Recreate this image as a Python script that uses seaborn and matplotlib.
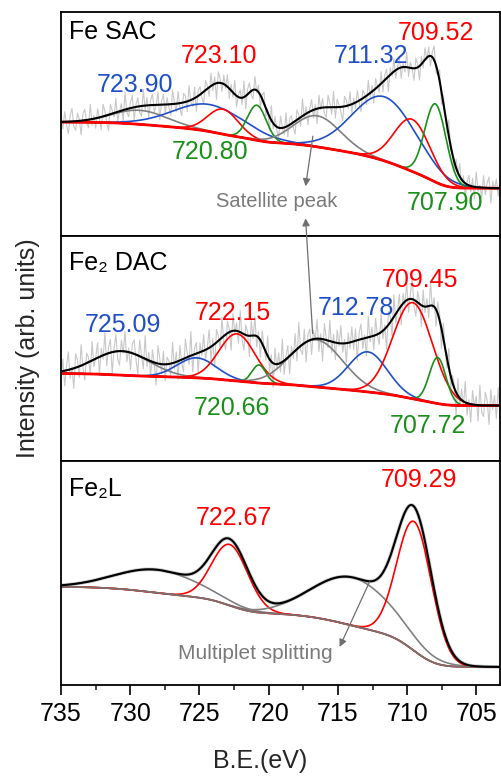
import numpy as np
import pandas as pd
import matplotlib
matplotlib.use("Agg")
import matplotlib.pyplot as plt
import seaborn as sns

# ---------------- data ----------------
panel_names = ["Fe SAC", "Fe\u2082 DAC", "Fe\u2082L"]

# fitted components: centre (eV), height above background, sigma (eV), kind
sac_center = [729.3, 724.26, 723.3, 720.85, 716.5, 711.64, 709.64, 707.96]
sac_height = [14, 27, 25, 35, 31, 64, 52, 78]
sac_sigma = [2.0, 2.6, 1.1, 0.68, 1.7, 2.3, 1.3, 0.77]
sac_kind = ["sat", "p12b", "p12a", "p12c", "sat", "p32b", "p32a", "p32c"]
sac_bg = [48, 114]          # background level at low / high B.E.

dac_center = [730.6, 725.2, 722.29, 720.7, 716.56, 712.84, 709.6, 707.8]
dac_height = [24, 20, 47, 18, 47, 40, 96, 46]
dac_sigma = [2.0, 1.4, 1.3, 0.5, 1.9, 1.4, 1.44, 0.6]
dac_kind = ["sat", "p12b", "p12a", "p12c", "sat", "p32b", "p32a", "p32c"]
dac_bg = [55, 87]

fel_center = [728.0, 722.8, 713.93, 709.48]
fel_height = [23, 61, 48, 129]
fel_sigma = [3.0, 1.3, 2.9, 1.25]
fel_kind = ["sat", "p12a", "sat", "p32a"]
fel_bg = [18, 98]

# residuals of the raw spectra about the fit (735 -> 703.3 eV)
sac_resid = [4, -7, 10, -3, -12, 6, 13, -5, -9, 8, 2, -14, 7, 11, -2, -8, 15, -6, 3, -10,
             9, -1, -13, 12, 5, -7, -16, 10, 3, -4, 14, -9, 0, 7, -11, 17, -3, -8, 6, 12,
             -13, 2, 9, -6, -10, 16, -4, 8, -12, 5, 11, -7, -1, 13, -15, 4, 10, -9, 7, -3,
             -11, 14, 1, -8, 12, -5, -13, 9, 6, -10, 15, -2, -7, 11, -14, 5, 8, -4, -12, 10,
             3, -9, 13, -6, 7, -16, 11, 4, -8, 9, -3, 12, -10, 6, -5, 14, -11, 2, 8, -7,
             16, -13, 5, 10, -4, -9, 13, -2, 7, -12, 4, 11, -8, 3, -14, 15, -6, 9, -3, -10,
             12, 1, -7, 14, -11, 6, 8, -5, -13, 10, 4, -9, 17, -4, 7, -12, 3, 11, -8, 5,
             -15, 13, -2, 9, -6, -10, 12, 4, -7, 16, -11, 8, 2, -5, -14, 10, 6, -3, 13, -9,
             5, -6, 11, -2, -12, 8, 3, -9, 14, -4, 6, -13, 10, 1, -7, 12, -10, 5, 9, -15,
             7, -3, 13, -8, 2, 11, -11, 4, -5, 15, -9, 6, -1, -12, 10, 3, -14, 8, -6, 12,
             -2, 9, -10, 5, 14, -7, -3, 11, -13, 7, 1, -8, 16, -5, 4, -11, 9, -2, 13, -9,
             6, -14, 3, 10, -6, 8, -12, 15, -4, 2, -10, 12, -7, 5, 11, -15, 7, -1, 9, -8, 4]
dac_resid = [-6, 12, -15, 4, 18, -9, 2, -20, 14, 7, -11, 21, -3, -16, 10, 5, -13, 19, -7, 1,
             15, -18, 8, -4, 22, -12, 6, 13, -21, 3, 17, -8, -14, 11, -2, 20, -10, 4, -17, 9,
             14, -5, -19, 16, 2, -11, 23, -7, 8, -15, 12, -1, -22, 18, 5, -9, 13, -16, 7, 3,
             -12, 21, -6, 10, -18, 15, -3, -13, 19, 4, -8, 24, -17, 6, 11, -20, 9, -4, 16, -10,
             2, 18, -14, 7, -23, 13, 5, -9, 20, -6, -15, 12, 3, -19, 17, -2, 8, -12, 22, -7,
             -16, 10, 4, -21, 15, -3, 19, -11, 6, -17, 13, 1, -8, 20, -13, 7, -24, 16, -5, 11,
             -9, 23, -14, 3, 12, -18, 8, -6, 17, -12, 25, -4, -10, 14, -20, 6, 11, -15, 9, -1,
             19, -13, 5, -22, 16, 2, -7, 21, -11, 8, -17, 13, -3, 18, -9, 4, -19, 10, -6, 15,
             -8, 12, -20, 7, 15, -10, 3, -18, 21, -5, 9, -14, 17, -2, -11, 19, -8, 4, -22, 13,
             6, -16, 22, -9, 1, 14, -19, 10, -4, 18, -13, 5, 20, -7, -15, 11, 2, -21, 16, -6,
             8, -12, 24, -3, 9, -17, 12, 6, -20, 15, -1, -10, 19, -14, 7, 3, -23, 17, -8, 11,
             -5, 21, -12, 4, -18, 14, -2, 9, -16, 20, -7, -11, 13, 5, -19, 16, -4, 10, -13, 18, -9]

# peak labels: text, kind, position (eV, intensity)
sac_labels = [("723.10", "p12a", 723.61, 180), ("723.90", "p12b", 729.66, 151),
              ("720.80", "p12c", 724.21, 84), ("711.32", "p32b", 712.6, 180),
              ("709.52", "p32a", 707.96, 203), ("707.90", "p32c", 707.24, 33)]
dac_labels = [("725.09", "p12b", 730.55, 135), ("722.15", "p12a", 722.58, 147),
              ("720.66", "p12c", 722.69, 53), ("712.78", "p32b", 713.73, 152),
              ("709.45", "p32a", 709.07, 180), ("707.72", "p32c", 708.47, 35)]
fel_labels = [("722.67", "p12a", 722.53, 167), ("709.29", "p32a", 709.17, 205)]

XMIN, XMAX = 703.3, 735.0

# ---------------- styles ----------------
kind_color = {"sat": "#808080", "p12a": "#ff0000", "p32a": "#ff0000",
              "p12b": "#1f4fc8", "p32b": "#1f4fc8", "p12c": "#1a8f1a", "p32c": "#1a8f1a"}

sns.set_theme(style="white")
plt.rcParams["font.family"] = ["Liberation Sans", "DejaVu Sans"]
plt.rcParams["axes.linewidth"] = 1.3
plt.rcParams["axes.edgecolor"] = "black"

fig = plt.figure(figsize=(5.02, 7.78), dpi=100)
axes = fig.subplots(3, 1, sharex=True, gridspec_kw=dict(hspace=0))
fig.subplots_adjust(left=61 / 502, right=500 / 502, top=1 - 12 / 778, bottom=1 - 685 / 778)

xg = np.linspace(XMIN, XMAX, 900)


def gauss(x, c, h, s):
    return h * np.exp(-((x - c) ** 2) / (2 * s ** 2))


def build(center, height, sigma, bg):
    comps = [gauss(xg, c, h, s) for c, h, s in zip(center, height, sigma)]
    tot = np.sum(comps, axis=0)
    cum = np.concatenate([[0], np.cumsum((tot[1:] + tot[:-1]) / 2 * np.diff(xg))])
    back = bg[0] + (bg[1] - bg[0]) * cum / cum[-1]
    return comps, tot, back


def line(ax, x, y, **kw):
    sns.lineplot(x=x, y=y, ax=ax, sort=False, estimator=None, legend=False, **kw)


panels = [
    (sac_center, sac_height, sac_sigma, sac_kind, sac_bg, sac_resid, sac_labels),
    (dac_center, dac_height, dac_sigma, dac_kind, dac_bg, dac_resid, dac_labels),
    (fel_center, fel_height, fel_sigma, fel_kind, fel_bg, None, fel_labels),
]

for i, (ax, (cen, hei, sig, kinds, bg, resid, labels)) in enumerate(zip(axes, panels)):
    comps, tot, back = build(cen, hei, sig, bg)
    fit = tot + back
    if resid is not None:
        xr = np.linspace(XMAX, XMIN, len(resid))
        raw = np.interp(xr, xg, fit) + np.array(resid)
        line(ax, xr, raw, color="#c8c8c8", linewidth=0.8)
    else:
        line(ax, xg, fit, color="#c8c8c8", linewidth=2.6)
    for comp, k in zip(comps, kinds):
        line(ax, xg, comp + back, color=kind_color[k], linewidth=1.2)
    if i < 2:
        line(ax, xg, back, color="#ff0000", linewidth=2.0)
    else:
        line(ax, xg, back, color="#7a7070", linewidth=1.3)
    line(ax, xg, fit, color="black", linewidth=1.5)
    for txt, k, x, y in labels:
        ax.text(x, y, txt, color=kind_color[k], fontsize=18, ha="center", va="center")
    ax.text(734.4, 204 if i == 0 else (197 if i == 1 else 196), panel_names[i],
            fontsize=18, ha="left", va="center", color="black")
    ax.set_ylim(0, 224)
    ax.set_yticks([])
    ax.set_ylabel("")
    ax.set_xlabel("")
    for sp in ax.spines.values():
        sp.set_linewidth(1.3)
        sp.set_color("black")

ax_top, ax_mid, ax_bot = axes
ax_bot.set_xlim(XMAX, XMIN)
ax_bot.xaxis.set_major_locator(matplotlib.ticker.MultipleLocator(5))
ax_bot.xaxis.set_minor_locator(matplotlib.ticker.MultipleLocator(2.5))
ax_bot.tick_params(axis="x", which="major", direction="out", length=7, width=1.2,
                   labelsize=18, pad=5, bottom=True, colors="black")
ax_bot.tick_params(axis="x", which="minor", direction="out", length=3.6, width=1.2, bottom=True)
for ax in (ax_top, ax_mid):
    ax.tick_params(axis="x", which="both", bottom=False, labelbottom=False)

gray_arrow = dict(arrowstyle="-|>", color="#6e6e6e", lw=0.9, mutation_scale=11,
                  shrinkA=0, shrinkB=0)
ax_top.text(719.45, 35, "Satellite peak", color="#7a7a7a", fontsize=14.5, ha="center", va="center")
ax_top.annotate("", xy=(717.34, 50), xytext=(716.81, 100), arrowprops=gray_arrow)
ax_mid.annotate("", xy=(717.34, 18), xycoords=ax_top.transData, xytext=(716.83, 127),
                textcoords="data", arrowprops=gray_arrow, annotation_clip=False)
ax_bot.text(721.0, 31, "Multiplet splitting", color="#7a7a7a", fontsize=15, ha="center", va="center")
ax_bot.annotate("", xy=(714.88, 38), xytext=(712.72, 103), arrowprops=gray_arrow)

fig.text(28 / 502, 1 - 348 / 778, "Intensity (arb. units)", rotation=90, fontsize=18,
         ha="center", va="center")
fig.text(260.5 / 502, 1 - 761 / 778, "B.E.(eV)", fontsize=18, ha="center", va="center")

fig.savefig("out.png", dpi=100)
